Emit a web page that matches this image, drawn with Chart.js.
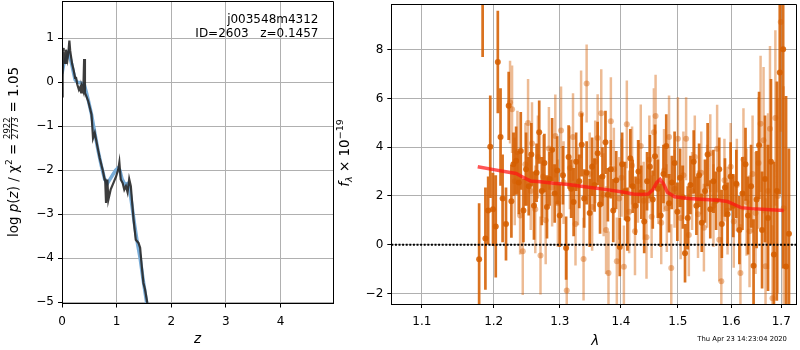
<!DOCTYPE html>
<html>
<head>
<meta charset="utf-8">
<script src="https://cdn.jsdelivr.net/npm/chart.js@4.4.1/dist/chart.umd.min.js"></script>
<style>
  html, body { margin: 0; padding: 0; background: #fff; }
  #wrap { position: relative; width: 800px; height: 350px; overflow: hidden; }
  #pzBox { position: absolute; left: 0; top: 0; width: 340px; height: 350px; }
  #specBox { position: absolute; left: 320px; top: 0; width: 480px; height: 350px; }
</style>
</head>
<body>
<div id="wrap">
  <div id="pzBox"><canvas id="pzChart" width="340" height="350"></canvas></div>
  <div id="specBox"><canvas id="specChart" width="480" height="350"></canvas></div>
</div>
<script>
// ---- p(z) panel data ----
const zGrid = [0.005, 0.012, 0.022, 0.030, 0.040, 0.055, 0.073, 0.085, 0.100, 0.118, 0.135, 0.150, 0.165, 0.185,
  0.210, 0.225, 0.240, 0.255, 0.280, 0.310, 0.330, 0.350, 0.362, 0.390, 0.405, 0.420, 0.450, 0.480, 0.510, 0.540,
  0.568, 0.600, 0.647, 0.690, 0.750, 0.780, 0.790, 0.806, 0.830, 0.848, 0.890, 0.940, 0.990, 1.030, 1.050, 1.075,
  1.110, 1.140, 1.170, 1.200, 1.230, 1.260, 1.280, 1.310, 1.350, 1.400, 1.430, 1.460, 1.490, 1.520, 1.560, 1.600];
const logPz = [-0.32, 0.10, 0.78, 0.70, 0.50, 0.44, 0.74, 0.62, 0.52, 0.70, 0.95, 0.72, 0.59, 0.42,
  0.29, 0.20, 0.10, 0.12, -0.05, -0.17, -0.12, -0.23, -0.09, -0.20, 0.53, -0.24, -0.33, -0.43, -0.58, -0.73,
  -1.27, -1.15, -1.45, -1.72, -2.02, -2.21, -2.21, -2.74, -2.21, -2.67, -2.44, -2.29, -2.14, -1.98, -1.82, -2.21,
  -2.29, -2.44, -2.36, -2.50, -2.20, -2.36, -2.67, -3.12, -3.58, -3.65, -3.76, -4.18, -4.56, -4.71, -5.01, -5.40];
const zSmooth = [0.00, 0.03, 0.06, 0.09, 0.12, 0.15, 0.18, 0.21, 0.24, 0.28, 0.33, 0.38, 0.41, 0.45, 0.48, 0.54,
  0.60, 0.66, 0.72, 0.78, 0.83, 0.88, 0.93, 0.98, 1.02, 1.06, 1.10, 1.15, 1.20, 1.24, 1.28, 1.33, 1.38, 1.43, 1.48,
  1.53, 1.58];
const logPzSmooth = [0.20, 0.40, 0.50, 0.58, 0.67, 0.55, 0.40, 0.22, 0.06, 0.00, -0.01, -0.03, -0.06, -0.25, -0.40,
  -0.73, -1.15, -1.55, -1.90, -2.20, -2.30, -2.20, -2.10, -2.00, -1.95, -2.00, -2.20, -2.32, -2.30, -2.45, -2.80,
  -3.25, -3.65, -4.00, -4.45, -4.85, -5.25];
const zTicks = [0, 1, 2, 3, 4];
const pzTicks = [1, 0, -1, -2, -3, -4, -5];

// ---- spectrum panel data (flux in 1e-19) ----
const waveA = [1.179, 1.184, 1.188, 1.192, 1.195, 1.199, 1.203, 1.206, 1.210, 1.213, 1.218, 1.222, 1.226, 1.229,
  1.233, 1.237, 1.240, 1.244, 1.248, 1.252, 1.256, 1.260, 1.264, 1.268, 1.272, 1.276, 1.280, 1.284, 1.288, 1.292,
  1.296, 1.300, 1.305, 1.310, 1.314, 1.318, 1.322, 1.326, 1.331, 1.335, 1.339, 1.343, 1.348, 1.352, 1.356, 1.361,
  1.365, 1.369, 1.374, 1.378, 1.383, 1.387, 1.392, 1.398, 1.402, 1.407, 1.411, 1.416, 1.420, 1.425, 1.430, 1.435,
  1.440, 1.445, 1.450, 1.455, 1.459, 1.464, 1.469, 1.474, 1.479, 1.484, 1.489, 1.494, 1.499, 1.504, 1.509, 1.513,
  1.518, 1.523, 1.529, 1.534, 1.539, 1.544, 1.550, 1.555, 1.560, 1.566, 1.571, 1.577, 1.582, 1.588, 1.593, 1.599,
  1.604, 1.610, 1.616, 1.622, 1.628, 1.633, 1.639, 1.644, 1.650, 1.655, 1.661, 1.667, 1.673, 1.679, 1.685, 1.691,
  1.697, 1.704, 1.710, 1.716];
const fluxA = [-0.60, 10.00, 0.25, 1.40, 4.02, 1.45, 0.75, 7.50, 4.42, 1.90, 0.85, 5.70, 1.78, 3.30,
  3.45, 2.55, 3.85, 1.40, 3.10, 2.40, 3.70, 1.60, 2.95, 4.62, 2.20, 3.35, 1.55, 2.70, 3.90, 2.10,
  3.05, 1.20, 2.85, -0.14, 3.60, 2.30, 1.75, 3.40, 2.60, 4.10, 1.90, 2.95, 1.30, 3.20, 2.45, 3.75,
  1.65, 2.80, 4.20, 2.05, 3.10, 1.40, 2.65, -0.10, 3.30, 2.20, 1.05, 3.55, 2.40, 1.60, 3.00, 2.15,
  0.95, 2.60, 3.20, 1.85, 3.63, 2.30, 1.20, 2.90, 4.05, 1.70, 2.55, 3.35, 1.35, 2.75, 1.95, -0.35,
  1.10, 2.45, 3.40, 1.60, 2.85, 0.90, 2.20, 3.70, 1.45, 2.60, 1.80, 3.10, 0.85, 2.35, 1.25, 2.80,
  1.60, 2.50, 0.60, 2.10, 3.30, 1.20, 2.40, -0.86, 1.85, 4.08, 0.60, 2.70, 1.10, 3.40, -0.40, 2.20,
  7.07, 8.02, -0.90, 0.45];
const errA = [2.3, 2.3, 2.1, 1.4, 2.1, 1.5, 2.1, 2.1, 2.0, 1.8, 1.5, 1.4, 1.5, 1.3,
  1.4, 1.3, 1.6, 1.3, 1.5, 1.2, 1.3, 1.4, 1.2, 1.3, 1.4, 1.2, 1.3, 1.1, 1.3, 1.2,
  1.4, 1.3, 1.2, 1.3, 1.3, 1.2, 1.4, 1.2, 1.1, 1.3, 1.2, 1.3, 1.4, 1.2, 1.1, 1.3,
  1.2, 1.2, 1.3, 1.1, 1.2, 1.3, 1.2, 1.2, 1.3, 1.2, 1.3, 1.2, 1.1, 1.2, 1.3, 1.1,
  1.3, 1.2, 1.3, 1.2, 1.3, 1.2, 1.3, 1.2, 1.3, 1.2, 1.1, 1.3, 1.2, 1.2, 1.3, 1.2,
  1.3, 1.2, 1.3, 1.2, 1.3, 1.2, 1.3, 1.3, 1.2, 1.3, 1.2, 1.3, 1.4, 1.2, 1.3, 1.4,
  1.3, 1.4, 1.4, 1.5, 1.5, 1.6, 1.7, 1.9, 2.0, 2.2, 2.4, 2.6, 3.0, 3.4, 3.8, 4.5,
  5.0, 9.0, 7.0, 3.5];

const waveB = [1.224, 1.227, 1.231, 1.235, 1.239, 1.243, 1.247, 1.251, 1.255, 1.257, 1.262, 1.266, 1.270, 1.274,
  1.278, 1.283, 1.288, 1.293, 1.297, 1.302, 1.306, 1.311, 1.316, 1.321, 1.325, 1.329, 1.334, 1.338, 1.343, 1.348,
  1.352, 1.357, 1.361, 1.367, 1.371, 1.375, 1.379, 1.383, 1.388, 1.393, 1.397, 1.401, 1.405, 1.410, 1.414, 1.419,
  1.424, 1.429, 1.434, 1.439, 1.444, 1.449, 1.453, 1.457, 1.460, 1.465, 1.470, 1.475, 1.480, 1.484, 1.488, 1.494,
  1.500, 1.505, 1.510, 1.515, 1.520, 1.526, 1.531, 1.537, 1.543, 1.548, 1.554, 1.560, 1.566, 1.573, 1.577, 1.581,
  1.587, 1.593, 1.599, 1.605, 1.611, 1.618, 1.624, 1.630, 1.636, 1.642, 1.648, 1.654, 1.658, 1.664, 1.668, 1.673,
  1.677, 1.682, 1.688, 1.693, 1.699, 1.705];
const fluxB = [5.85, 5.56, 2.60, 3.80, 1.20, -0.27, 3.30, 5.00, 2.20, 4.15, 1.45, 3.60, -0.44, 2.80,
  1.00, 3.95, 2.35, 4.46, 1.70, 4.69, 2.55, -1.88, 3.15, 4.42, 0.85, 2.40, 5.35, -0.59, 6.62, 2.90,
  1.55, 3.40, 4.38, 5.40, 2.05, 0.60, -1.16, 5.07, 3.10, -0.68, 1.90, 2.75, -0.91, 4.94, 1.35, 3.25,
  0.55, 2.60, 4.05, 1.80, 0.30, 3.50, 1.15, 4.62, 5.28, 2.45, 0.90, 3.05, 1.50, 4.42, -0.96, 2.30,
  4.35, 1.10, 2.85, 4.35, 0.40, 2.20, 3.60, 1.25, 2.95, 0.70, 2.40, 3.75, 1.60, 3.94, 0.20, -1.50,
  2.65, 1.40, 3.20, 0.95, 2.45, -1.16, 3.50, 1.75, 0.55, 2.90, 1.30, 3.35, 4.96, 4.29, -0.89, 2.20,
  4.76, -2.20, 5.20, 2.00, 9.14, 1.50];
const errB = [1.7, 1.8, 1.8, 1.7, 1.6, 1.8, 1.7, 1.8, 1.6, 1.7, 1.8, 1.7, 1.6, 1.7,
  1.8, 1.7, 1.6, 1.7, 1.8, 1.8, 1.7, 1.9, 1.7, 1.8, 1.7, 1.6, 1.8, 1.7, 1.6, 1.7,
  1.8, 1.7, 1.8, 1.8, 1.7, 1.8, 1.7, 1.8, 1.7, 1.8, 1.7, 1.6, 1.7, 1.8, 1.7, 1.6,
  1.8, 1.7, 1.7, 1.6, 1.7, 1.8, 1.7, 1.8, 1.7, 1.6, 1.7, 1.7, 1.8, 1.7, 1.8, 1.6,
  1.7, 1.7, 1.8, 1.7, 1.7, 1.6, 1.7, 1.8, 1.7, 1.8, 1.7, 1.6, 1.7, 1.8, 1.7, 1.8,
  1.7, 1.8, 1.8, 1.9, 1.9, 2.0, 2.1, 2.2, 2.3, 2.4, 2.5, 2.7, 2.8, 3.0, 2.8, 3.2,
  3.4, 3.0, 3.6, 4.0, 4.5, 5.0];

const waveModel = [1.177, 1.200, 1.220, 1.233, 1.245, 1.255, 1.270, 1.290, 1.314, 1.340, 1.370, 1.400, 1.421,
  1.435, 1.447, 1.455, 1.462, 1.468, 1.474, 1.481, 1.494, 1.520, 1.550, 1.575, 1.593, 1.605, 1.619, 1.640,
  1.670, 1.705];
const fluxModel = [3.20, 3.08, 2.98, 2.92, 2.75, 2.61, 2.58, 2.52, 2.47, 2.38, 2.28, 2.17, 2.08,
  2.06, 2.08, 2.25, 2.55, 2.68, 2.50, 2.15, 1.97, 1.90, 1.85, 1.82, 1.77, 1.66, 1.52, 1.48,
  1.44, 1.40];

const waveTicks = [1.1, 1.2, 1.3, 1.4, 1.5, 1.6, 1.7];
const fluxTicks = [-2, 0, 2, 4, 6, 8];
const waveRange = [1.06, 1.7307];

Chart.defaults.font.family = 'DejaVu Sans';
Chart.defaults.font.size = 12;
Chart.defaults.color = '#000';

const GRID = '#b0b0b0';
const FONT = 'DejaVu Sans';
const minus = v => String(v).replace('-', '\u2212');

function alignPx(p) { return Math.round(p - 0.5) + 0.5; }

// draws a run of text pieces (optionally rotated) centred on x,y
function drawRich(ctx, x, y, parts, rotate) {
  ctx.save();
  ctx.translate(x, y);
  if (rotate) ctx.rotate(-Math.PI / 2);
  let total = 0;
  parts.forEach(p => {
    ctx.font = p.font;
    p.w = p.frac ? Math.max(ctx.measureText(p.top).width, ctx.measureText(p.bot).width) + 1
                 : ctx.measureText(p.text).width;
    total += p.w;
  });
  let cx = -total / 2;
  ctx.fillStyle = '#000';
  ctx.textBaseline = 'alphabetic';
  parts.forEach(p => {
    ctx.font = p.font;
    if (p.frac) {
      ctx.textAlign = 'center';
      ctx.fillText(p.top, cx + p.w / 2, -7.6);
      ctx.fillText(p.bot, cx + p.w / 2, 0.2);
      ctx.fillRect(cx, -6.9, p.w, 0.8);
    } else {
      ctx.textAlign = 'left';
      ctx.fillText(p.text, cx, p.dy || 0);
    }
    cx += p.w;
  });
  ctx.restore();
}

function frame(chart) {
  const {ctx, chartArea: a} = chart;
  ctx.save();
  ctx.strokeStyle = '#000';
  ctx.lineWidth = 1;
  ctx.beginPath();
  const l = alignPx(a.left), r = alignPx(a.right), t = alignPx(a.top), b = alignPx(a.bottom);
  ctx.moveTo(l, b); ctx.lineTo(l, t); ctx.lineTo(r, t); ctx.lineTo(r, b); ctx.lineTo(l, b);
  ctx.stroke();
  ctx.restore();
}

function axisOpts(extra) {
  return Object.assign({
    type: 'linear',
    grid: { color: GRID, lineWidth: 1, tickColor: '#000', tickLength: 4, tickWidth: 1 },
    border: { display: true, color: '#000', width: 1 }
  }, extra);
}

// ---------- left: p(z) ----------
const pzLabels = {
  id: 'pzLabels',
  afterDraw(chart) {
    const ctx = chart.ctx;
    frame(chart);
    ctx.save();
    ctx.fillStyle = '#000';
    ctx.font = '12px ' + FONT;
    ctx.textAlign = 'right';
    ctx.textBaseline = 'middle';
    ctx.fillText('j003548m4312', 318.5, 20);
    ctx.fillText('ID=2603   z=0.1457', 318.5, 33.5);
    ctx.font = 'italic 13.5px ' + FONT;
    ctx.textAlign = 'center';
    ctx.textBaseline = 'alphabetic';
    ctx.fillText('z', 197.5, 343);
    ctx.restore();
    const n = '13.5px ' + FONT, it = 'italic 13.5px ' + FONT, sm = '9px ' + FONT, fr = '8.5px ' + FONT;
    drawRich(ctx, 18, 152, [
      {text: 'log ', font: n}, {text: 'p', font: it}, {text: '(', font: n}, {text: 'z', font: it},
      {text: ') / ', font: n}, {text: '\u03c7', font: n}, {text: '2', font: sm, dy: -6},
      {text: ' = ', font: n}, {frac: true, top: '2922', bot: '2773', font: fr}, {text: ' = 1.05', font: n}
    ], true);
  }
};

new Chart(document.getElementById('pzChart'), {
  type: 'scatter',
  data: {
    datasets: [
      {
        label: 'log p(z)',
        data: zGrid.map((z, i) => ({x: z, y: logPz[i]})),
        showLine: true, borderColor: 'rgba(40,40,40,0.9)', borderWidth: 2.2, pointRadius: 0, order: 0
      },
      {
        label: 'smooth',
        data: zSmooth.map((z, i) => ({x: z, y: logPzSmooth[i]})),
        showLine: true, borderColor: '#78acd8', borderWidth: 3.5, pointRadius: 0, order: 1
      }
    ]
  },
  options: {
    responsive: false,
    animation: false,
    layout: { padding: { top: 1, right: 7, left: 0, bottom: 0 } },
    plugins: { legend: { display: false }, tooltip: { enabled: false } },
    scales: {
      x: axisOpts({
        min: 0, max: 4.96,
        afterBuildTicks: s => { s.ticks = zTicks.map(v => ({value: v})); },
        afterFit: s => { s.height = 46.5; s.paddingLeft = 0; s.paddingRight = 0; },
        ticks: { padding: 7, maxRotation: 0, autoSkip: false, callback: v => minus(v) }
      }),
      y: axisOpts({
        min: -5.027, max: 1.848,
        afterBuildTicks: s => { s.ticks = pzTicks.map(v => ({value: v})); },
        afterFit: s => { s.width = 62; s.paddingTop = 0; s.paddingBottom = 0; },
        ticks: { padding: 4, autoSkip: false, callback: v => minus(v) }
      })
    }
  },
  plugins: [pzLabels]
});

// ---------- right: spectrum ----------
const ORANGE = 'rgba(213,94,0,0.88)';
const ORANGE_LIGHT = 'rgba(213,94,0,0.42)';

function errorSegments(w, f, e) {
  const out = [];
  w.forEach((x, i) => {
    out.push({x: x, y: f[i] - e[i]}, {x: x, y: f[i] + e[i]}, {x: x, y: NaN});
  });
  return out;
}

const specLabels = {
  id: 'specLabels',
  afterDraw(chart) {
    const ctx = chart.ctx;
    frame(chart);
    ctx.save();
    ctx.fillStyle = '#000';
    ctx.font = 'italic 13.5px ' + FONT;
    ctx.textAlign = 'center';
    ctx.textBaseline = 'alphabetic';
    ctx.fillText('\u03bb', 275.3, 345);
    ctx.font = '6.8px ' + FONT;
    ctx.textAlign = 'left';
    ctx.textBaseline = 'middle';
    ctx.fillText('Thu Apr 23 14:23:04 2020', 377.3, 339);
    ctx.restore();
    const n = '13.5px ' + FONT, it = 'italic 13.5px ' + FONT, sm = '9.5px ' + FONT, smi = 'italic 9.5px ' + FONT;
    drawRich(ctx, 28.5, 153, [
      {text: 'f', font: it}, {text: '\u03bb', font: smi, dy: 3}, {text: ' \u00d7 10', font: n},
      {text: '\u221219', font: sm, dy: -6}
    ], true);
  }
};

new Chart(document.getElementById('specChart'), {
  type: 'scatter',
  data: {
    datasets: [
      {
        label: 'zero',
        data: waveRange.map(x => ({x: x, y: 0})),
        showLine: true, borderColor: '#000', borderWidth: 2, borderDash: [2, 1.6], pointRadius: 0, order: 0
      },
      {
        label: 'model',
        data: waveModel.map((x, i) => ({x: x, y: fluxModel[i]})),
        showLine: true, borderColor: 'rgba(255,20,20,0.72)', borderWidth: 3.5, pointRadius: 0, order: 1
      },
      {
        label: 'beam A',
        data: waveA.map((x, i) => ({x: x, y: fluxA[i]})),
        pointRadius: 3, pointBackgroundColor: ORANGE, pointBorderWidth: 0, order: 2
      },
      {
        label: 'beam A err',
        data: errorSegments(waveA, fluxA, errA),
        showLine: true, spanGaps: false, borderColor: ORANGE, borderWidth: 2.7, pointRadius: 0, order: 3
      },
      {
        label: 'beam B',
        data: waveB.map((x, i) => ({x: x, y: fluxB[i]})),
        pointRadius: 3, pointBackgroundColor: ORANGE_LIGHT, pointBorderWidth: 0, order: 4
      },
      {
        label: 'beam B err',
        data: errorSegments(waveB, fluxB, errB),
        showLine: true, spanGaps: false, borderColor: ORANGE_LIGHT, borderWidth: 2.5, pointRadius: 0, order: 5
      }
    ]
  },
  options: {
    responsive: false,
    animation: false,
    layout: { padding: { top: 1, right: 0.7, left: 0, bottom: 0 } },
    plugins: { legend: { display: false }, tooltip: { enabled: false } },
    scales: {
      x: axisOpts({
        type: 'logarithmic',
        min: waveRange[0], max: waveRange[1],
        afterBuildTicks: s => { s.ticks = waveTicks.map(v => ({value: v})); },
        afterFit: s => { s.height = 46; s.paddingLeft = 0; s.paddingRight = 0; },
        ticks: { padding: 7, maxRotation: 0, autoSkip: false, callback: v => Number(v).toFixed(1) }
      }),
      y: axisOpts({
        min: -2.435, max: 9.88,
        afterBuildTicks: s => { s.ticks = fluxTicks.map(v => ({value: v})); },
        afterFit: s => { s.width = 71.3; s.paddingTop = 0; s.paddingBottom = 0; },
        ticks: { padding: 4, autoSkip: false, callback: v => minus(v) }
      })
    }
  },
  plugins: [specLabels]
});
</script>
</body>
</html>
